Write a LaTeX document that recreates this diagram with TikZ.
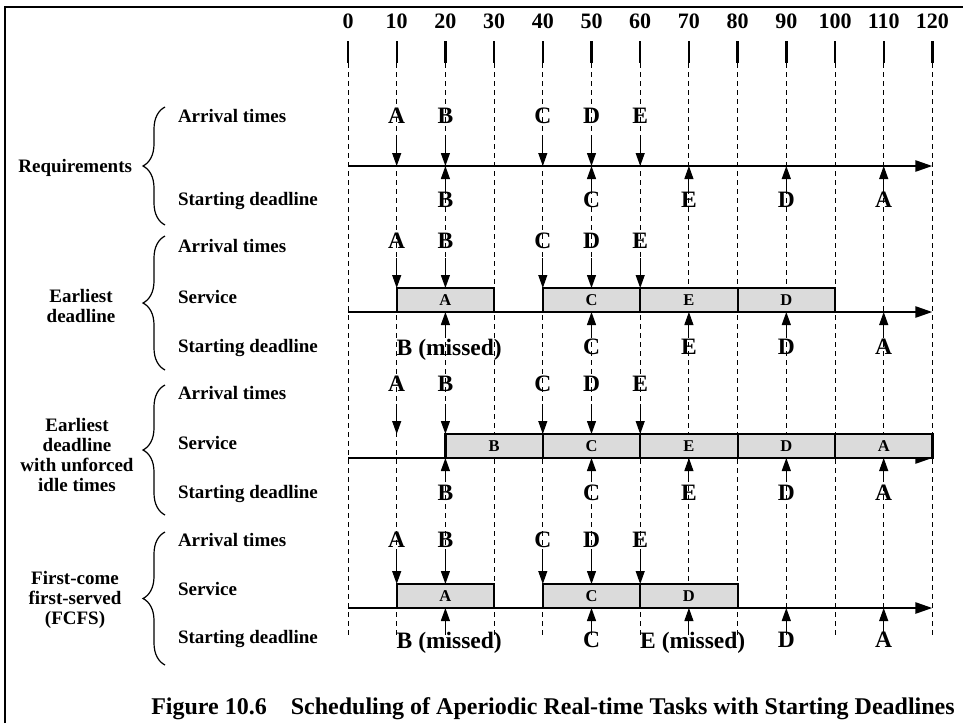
\documentclass[tikz,border=0pt]{standalone}
\usepackage{fontspec}
\setmainfont{Liberation Serif}
\usetikzlibrary{arrows.meta,decorations.pathreplacing}
\definecolor{boxgray}{gray}{0.86}
\begin{document}
\begin{tikzpicture}[x=1pt,y=-1pt,
  every node/.style={inner sep=0pt,outer sep=0pt,text depth=0pt},
  rowlbl/.style={anchor=west,font=\fontsize{19}{20}\selectfont\bfseries},
  grplbl/.style={align=center,font=\fontsize{19}{20}\selectfont\bfseries},
  numlbl/.style={font=\fontsize{22}{24}\selectfont\bfseries},
  tasklbl/.style={font=\fontsize{23.5}{24}\selectfont\bfseries},
  boxlbl/.style={font=\fontsize{16.5}{17}\selectfont\bfseries},
  captionlbl/.style={font=\fontsize{24}{26}\selectfont\bfseries},
  tickbar/.style={line width=2.4pt},
  gridline/.style={line width=0.9pt,dash pattern=on 5pt off 4pt},
  timeline/.style={line width=2.4pt,-{Triangle[length=17pt,width=11pt]}},
  arrive/.style={line width=1.1pt,-{Triangle[length=13pt,width=9pt]}},
  servbox/.style={draw,line width=2.2pt,fill=boxgray},
  grpbrace/.style={decorate,decoration={brace,amplitude=22pt},line width=1.2pt},
]
\useasboundingbox (0,0) rectangle (963,723);

% frame (top and left edges)
\draw[line width=2.8pt] (5,723) -- (5,7) -- (963,7);

% group labels and braces
\node[grplbl,anchor=east] (gReq) at (132,166) {Requirements};
\node[grplbl] (gEDF) at (81,306) {Earliest\\deadline};
\node[grplbl] (gUIT) at (77,455) {Earliest\\deadline\\with unforced\\idle times};
\node[grplbl] (gFCFS) at (75,598) {First-come\\first-served\\(FCFS)};
\draw[grpbrace] (165,225) -- (165,107);
\draw[grpbrace] (165,370) -- (165,236);
\draw[grpbrace] (165,515) -- (165,385);
\draw[grpbrace] (165,665) -- (165,532);

% row labels
\node[rowlbl] (r1a) at (178,116) {Arrival times};
\node[rowlbl] (r1d) at (178,199) {Starting deadline};
\node[rowlbl] (r2a) at (178,246) {Arrival times};
\node[rowlbl] (r2s) at (178,297) {Service};
\node[rowlbl] (r2d) at (178,346) {Starting deadline};
\node[rowlbl] (r3a) at (178,393) {Arrival times};
\node[rowlbl] (r3s) at (178,443) {Service};
\node[rowlbl] (r3d) at (178,492) {Starting deadline};
\node[rowlbl] (r4a) at (178,540) {Arrival times};
\node[rowlbl] (r4s) at (178,589) {Service};
\node[rowlbl] (r4d) at (178,637) {Starting deadline};

% caption
\node[captionlbl] (cap) at (553,706) {Figure 10.6\quad Scheduling of Aperiodic Real-time Tasks with Starting Deadlines};

% time chart: t = 0..120, origin at x = 348
\begin{scope}[shift={(348pt,0pt)},x=4.87pt]
  % time scale
  \foreach \t in {0,10,...,120}{
    \node[numlbl] (num\t) at (\t,21) {\t};
  }
  % task letters: arrivals and starting deadlines
  \foreach \t/\l in {10/A,20/B,40/C,50/D,60/E}{
    \node[tasklbl] (a1\l) at (\t,116) {\l};
    \node[tasklbl] (a2\l) at (\t,241) {\l};
    \node[tasklbl] (a3\l) at (\t,384) {\l};
    \node[tasklbl] (a4\l) at (\t,540) {\l};
  }
  \foreach \t/\l in {20/B,50/C,70/E,90/D,110/A}{
    \node[tasklbl] (d1\l) at (\t,200) {\l};
    \node[tasklbl] (d3\l) at (\t,493) {\l};
  }
  \foreach \t/\l in {50/C,70/E,90/D,110/A}{
    \node[tasklbl] (d2\l) at (\t,347) {\l};
  }
  \node[tasklbl,anchor=west] (d2B) at (10,347) {B (missed)};
  \foreach \t/\l in {50/C,90/D,110/A}{
    \node[tasklbl] (d4\l) at (\t,640) {\l};
  }
  \node[tasklbl,anchor=west] (d4B) at (10,640) {B (missed)};
  \node[tasklbl,anchor=west] (d4E) at (60,640) {E (missed)};

  % grid
  \foreach \t in {0,10,...,120}{
    \draw[tickbar] (\t,41) -- (\t,63);
    \draw[gridline] (\t,63) -- (\t,636);
  }

  % time axes
  \coordinate (ax1s) at (0,166); \coordinate (ax1e) at (120,166);
  \coordinate (ax2s) at (0,312); \coordinate (ax2e) at (120,312);
  \coordinate (ax3s) at (0,458); \coordinate (ax3e) at (120,458);
  \coordinate (ax4s) at (0,608); \coordinate (ax4e) at (120,608);
  \draw[timeline] (ax1s) -- (ax1e);
  \draw[timeline] (ax2s) -- (ax2e);
  \draw[timeline] (ax3s) -- (ax3e);
  \draw[timeline] (ax4s) -- (ax4e);

  % service intervals
  \foreach \a/\b/\l in {10/30/A,40/60/C,60/80/E,80/100/D}{
    \draw[servbox] (\a,288) rectangle node[boxlbl] (s2\l) {\l} (\b,312);
  }
  \foreach \a/\b/\l in {20/40/B,40/60/C,60/80/E,80/100/D,100/120/A}{
    \draw[servbox] (\a,434) rectangle node[boxlbl] (s3\l) {\l} (\b,458);
  }
  \foreach \a/\b/\l in {10/30/A,40/60/C,60/80/D}{
    \draw[servbox] (\a,584) rectangle node[boxlbl] (s4\l) {\l} (\b,608);
  }

  % arrival arrows
  \foreach \t in {10,20,40,50,60}{
    \draw[arrive] (\t,136) -- (\t,166);
    \draw[arrive] (\t,258) -- (\t,288);
    \draw[arrive] (\t,404) -- (\t,434);
    \draw[arrive] (\t,554) -- (\t,584);
  }
  % starting-deadline arrows
  \foreach \t in {20,50,70,90,110}{
    \draw[arrive] (\t,190) -- (\t,166);
    \draw[arrive] (\t,336) -- (\t,312);
    \draw[arrive] (\t,482) -- (\t,458);
    \draw[arrive] (\t,631) -- (\t,608);
  }
\end{scope}
\end{tikzpicture}
\end{document}
